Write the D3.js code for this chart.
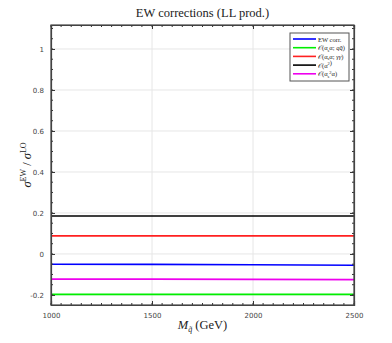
<!DOCTYPE html>
<html>
<head>
<meta charset="utf-8">
<style>
body { margin: 0; background: #fff; }
.tick text { font-family: "DejaVu Sans", sans-serif; font-size: 7px; fill: #444; }
.serif { font-family: "Liberation Serif", "DejaVu Serif", serif; fill: #222; }
</style>
</head>
<body>
<svg width="392" height="343"></svg>
<script src="https://d3js.org/d3.v7.min.js"></script>
<script>
// masses (GeV)
var masses = [1000, 1500, 2000, 2500];
var ewTotal = [-0.050, -0.051, -0.053, -0.055];
var qqbar   = [-0.197, -0.197, -0.197, -0.197];
var gammaG  = [0.088, 0.088, 0.088, 0.088];
var alpha2  = [0.185, 0.185, 0.185, 0.185];
var nloEw   = [-0.123, -0.123, -0.124, -0.125];
var seriesNames = ["EW corr.", "qq", "gg", "a2", "as2a"];
var seriesColors = ["#0000ff", "#00ee00", "#ff2020", "#000000", "#ee00ee"];
var seriesData = [ewTotal, qqbar, gammaG, alpha2, nloEw];
var xTicks = [1000, 1500, 2000, 2500];
var yTicks = [-0.2, 0, 0.2, 0.4, 0.6, 0.8, 1];

var svg = d3.select("svg");
var mLeft = 51, mRight = 354, mTop = 25, mBottom = 305;

var x = d3.scaleLinear().domain([1000, 2500]).range([mLeft, mRight]);
var y = d3.scaleLinear().domain([-0.249, 1.117]).range([mBottom, mTop]);

// grid
svg.append("g").selectAll("line").data(xTicks.slice(1, -1)).enter().append("line")
  .attr("x1", d => x(d)).attr("x2", d => x(d)).attr("y1", mTop).attr("y2", mBottom)
  .attr("stroke", "#e6e6e6").attr("stroke-width", 1);
svg.append("g").selectAll("line").data(yTicks).enter().append("line")
  .attr("x1", mLeft).attr("x2", mRight).attr("y1", d => y(d)).attr("y2", d => y(d))
  .attr("stroke", "#e6e6e6").attr("stroke-width", 1);

// series
var line = d3.line().x((d, i) => x(masses[i])).y(d => y(d));
svg.append("g").selectAll("path").data(seriesData).enter().append("path")
  .attr("d", d => line(d)).attr("fill", "none")
  .attr("stroke", (d, i) => seriesColors[i]).attr("stroke-width", 1.6);

// axes with inside ticks
var xMinor = d3.range(1000, 2501, 50);
var yMinor = d3.range(-0.25, 1.12, 0.05).filter(d => y(d) >= mTop && y(d) <= mBottom);
var yFmt = d => d === 0 ? "0" : d === 1 ? "1" : d3.format(".1f")(d).replace("−", "-");

svg.append("g").attr("transform", "translate(0," + mBottom + ")")
  .call(d3.axisBottom(x).tickValues(xTicks).tickSize(-4).tickPadding(8).tickFormat(d3.format("d")));
svg.append("g").attr("transform", "translate(0," + mTop + ")")
  .call(d3.axisTop(x).tickValues(xTicks).tickSize(-4).tickFormat(""));
svg.append("g").attr("transform", "translate(" + mLeft + ",0)")
  .call(d3.axisLeft(y).tickValues(yTicks).tickSize(-4).tickPadding(7).tickFormat(yFmt));
svg.append("g").attr("transform", "translate(" + mRight + ",0)")
  .call(d3.axisRight(y).tickValues(yTicks).tickSize(-4).tickFormat(""));

// minor ticks
svg.append("g").selectAll("line").data(xMinor).enter().append("line")
  .attr("x1", d => x(d)).attr("x2", d => x(d)).attr("y1", mBottom).attr("y2", mBottom - 2)
  .attr("stroke", "#333");
svg.append("g").selectAll("line").data(xMinor).enter().append("line")
  .attr("x1", d => x(d)).attr("x2", d => x(d)).attr("y1", mTop).attr("y2", mTop + 2)
  .attr("stroke", "#333");
svg.append("g").selectAll("line").data(yMinor).enter().append("line")
  .attr("x1", mLeft).attr("x2", mLeft + 2).attr("y1", d => y(d)).attr("y2", d => y(d))
  .attr("stroke", "#333");
svg.append("g").selectAll("line").data(yMinor).enter().append("line")
  .attr("x1", mRight).attr("x2", mRight - 2).attr("y1", d => y(d)).attr("y2", d => y(d))
  .attr("stroke", "#333");

svg.selectAll(".domain").attr("stroke", "#444").attr("stroke-width", 1.2);
svg.selectAll(".tick line").attr("stroke", "#333");

// frame
svg.append("rect").attr("x", mLeft).attr("y", mTop).attr("width", mRight - mLeft).attr("height", mBottom - mTop)
  .attr("fill", "none").attr("stroke", "#444").attr("stroke-width", 1.2);

// title
svg.append("text").attr("class", "serif").attr("x", (mLeft + mRight) / 2).attr("y", 17)
  .attr("text-anchor", "middle").attr("font-size", 12.5).text("EW corrections (LL prod.)");

// x label
var xlab = svg.append("text").attr("class", "serif").attr("x", (mLeft + mRight) / 2).attr("y", 329)
  .attr("text-anchor", "middle").attr("font-size", 12.5);
xlab.append("tspan").attr("font-style", "italic").text("M");
xlab.append("tspan").attr("font-size", 8).attr("dy", 3).attr("font-style", "italic").text("q̃");
xlab.append("tspan").attr("dy", -3).text(" (GeV)");

// y label
var ylab = svg.append("text").attr("class", "serif")
  .attr("transform", "translate(31," + ((mTop + mBottom) / 2) + ") rotate(-90)")
  .attr("text-anchor", "middle").attr("font-size", 12.5);
ylab.append("tspan").attr("font-style", "italic").text("σ");
ylab.append("tspan").attr("font-size", 8).attr("dy", -5).text("EW");
ylab.append("tspan").attr("dy", 5).text(" / ");
ylab.append("tspan").attr("font-style", "italic").text("σ");
ylab.append("tspan").attr("font-size", 8).attr("dy", -5).text("LO");

// legend
var lg = svg.append("g").attr("transform", "translate(290,33)");
lg.append("rect").attr("width", 59).attr("height", 48).attr("fill", "#fff")
  .attr("stroke", "#555").attr("stroke-width", 1);
var rows = lg.selectAll("g").data(seriesNames).enter().append("g")
  .attr("transform", (d, i) => "translate(0," + (6 + i * 8.7) + ")");
rows.append("line").attr("x1", 3).attr("x2", 26).attr("y1", 0).attr("y2", 0)
  .attr("stroke", (d, i) => seriesColors[i]).attr("stroke-width", 1.6);
var lt = rows.append("text").attr("class", "serif").attr("x", 28).attr("y", 2.5).attr("font-size", 6.5);
lt.each(function(d) {
  var t = d3.select(this);
  if (d === "EW corr.") { t.text(d); return; }
  t.append("tspan").text("𝒪(");
  if (d === "qq" || d === "gg") {
    t.append("tspan").text("α");
    t.append("tspan").attr("font-size", 4.5).attr("dy", 1.5).text("s");
    t.append("tspan").attr("dy", -1.5).text("α; ");
    t.append("tspan").attr("font-style", "italic").text(d === "qq" ? "qq̄" : "γγ");
  } else if (d === "a2") {
    t.append("tspan").text("α");
    t.append("tspan").attr("font-size", 4.5).attr("dy", -2.5).text("2");
    t.append("tspan").attr("dy", 2.5).text("");
  } else {
    t.append("tspan").text("α");
    t.append("tspan").attr("font-size", 4.5).attr("dy", 1.5).text("s");
    t.append("tspan").attr("font-size", 4.5).attr("dy", -4).text("2");
    t.append("tspan").attr("dy", 2.5).text("α");
  }
  t.append("tspan").text(")");
});
</script>
</body>
</html>
